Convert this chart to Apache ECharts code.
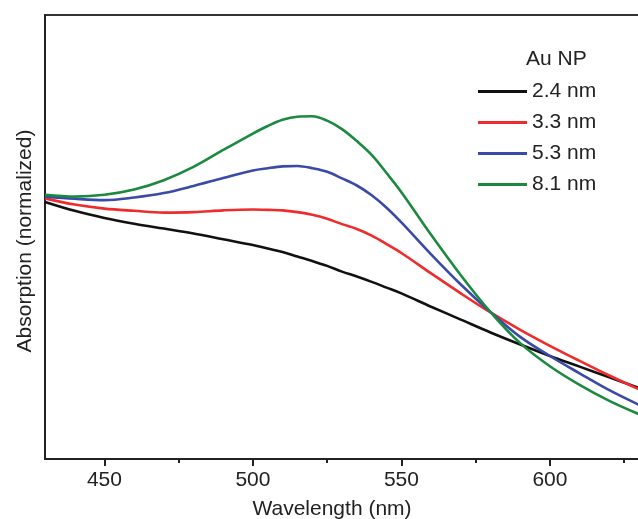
<!DOCTYPE html>
<html>
<head>
<meta charset="utf-8">
<script src="https://cdn.jsdelivr.net/npm/echarts@6/dist/echarts.min.js"></script>
<style>
html,body{margin:0;padding:0;background:#fff;}
#chart{width:638px;height:519px;}
</style>
</head>
<body>
<div id="chart"></div>
<script>
// Wavelength (nm)
var wavelengths = [430,440,450,460,470,480,490,500,505,510,515,520,525,530,535,540,545,550,560,570,580,590,600,610,620,630];
// Normalized absorption (arbitrary units, 0-100 scale)
var au24 = [57.9,55.9,54.3,53.0,51.9,50.8,49.5,48.2,47.4,46.6,45.6,44.6,43.5,42.2,41.1,39.9,38.6,37.3,34.3,31.4,28.5,25.8,23.2,20.8,18.4,16.0];
var au33 = [58.7,57.3,56.4,55.9,55.5,55.6,56.0,56.2,56.1,56.0,55.6,55.0,54.1,52.9,51.8,50.3,48.4,46.4,41.8,37.3,33.0,29.1,25.5,22.1,18.8,15.7];
var au53 = [59.1,58.6,58.3,58.9,59.9,61.5,63.3,65.0,65.5,65.9,66.0,65.5,64.7,63.2,61.6,59.4,56.6,53.3,46.1,39.3,33.1,27.5,23.2,19.3,15.5,12.2];
var au81 = [59.5,59.1,59.5,60.7,62.8,65.8,69.6,73.3,75.0,76.4,77.1,77.2,76.2,74.3,71.6,68.5,64.4,60.1,50.5,41.4,33.1,26.1,20.9,16.7,13.1,10.1];
var seriesNames = ['2.4 nm','3.3 nm','5.3 nm','8.1 nm'];
var majorTicks = [450,500,550,600];
var minorTicks = [475,525,575,625];

var FONT = '"Liberation Sans", Arial, Helvetica, sans-serif';
var colors = ['#111111','#ef2b2b','#3a4aa8','#1c8a3e'];
var allData = [au24, au33, au53, au81];

function pairs(vals){
  return wavelengths.map(function(w,i){ return [w, vals[i]]; });
}

var series = allData.map(function(vals, i){
  return {
    name: seriesNames[i],
    type: 'line',
    xAxisIndex: 0,
    yAxisIndex: 0,
    data: pairs(vals),
    smooth: 0.35,
    symbol: 'none',
    lineStyle: {color: colors[i], width: 2.6},
    itemStyle: {color: colors[i]},
    z: 2 + i
  };
});

var chart = echarts.init(document.getElementById('chart'), null, {renderer: 'canvas'});
chart.setOption({
  animation: false,
  backgroundColor: '#ffffff',
  title: {
    text: 'Au NP',
    left: 526,
    top: 49,
    padding: 0,
    textStyle: {fontFamily: FONT, fontSize: 21, fontWeight: 'normal', color: '#222'}
  },
  legend: {
    orient: 'vertical',
    left: 478,
    top: 81,
    padding: 0,
    itemGap: 10,
    itemWidth: 49,
    itemHeight: 3,
    icon: 'rect',
    data: seriesNames,
    textStyle: {fontFamily: FONT, fontSize: 21, color: '#222'}
  },
  grid: {
    left: 45, right: -1, top: 15, bottom: 60,
    outerBoundsMode: 'none',
    containLabel: false,
    show: true,
    borderColor: '#333',
    borderWidth: 2,
    backgroundColor: 'transparent'
  },
  xAxis: [{
    type: 'value',
    min: 430, max: 630,
    position: 'bottom',
    name: 'Wavelength (nm)',
    nameLocation: 'middle',
    nameGap: 40,
    nameTextStyle: {fontFamily: FONT, fontSize: 21, color: '#222', padding: [0, 20, 0, 0]},
    axisLine: {show: true, lineStyle: {color: '#222', width: 2}},
    axisTick: {show: true, inside: false, length: 7, customValues: majorTicks, lineStyle: {color: '#222', width: 2}},
    axisLabel: {show: true, customValues: majorTicks, margin: 11, fontFamily: FONT, fontSize: 21, color: '#222'},
    splitLine: {show: false}
  }, {
    type: 'value',
    min: 430, max: 630,
    position: 'bottom',
    axisLine: {show: false},
    axisTick: {show: true, inside: false, length: 4, customValues: minorTicks, lineStyle: {color: '#222', width: 2}},
    axisLabel: {show: false},
    splitLine: {show: false}
  }],
  yAxis: {
    type: 'value',
    min: 0, max: 100,
    name: 'Absorption (normalized)',
    nameLocation: 'middle',
    nameGap: 9,
    nameTextStyle: {fontFamily: FONT, fontSize: 21, color: '#222', padding: [0, 8, 0, 0]},
    axisLine: {show: true, lineStyle: {color: '#222', width: 2}},
    axisTick: {show: false},
    axisLabel: {show: false},
    splitLine: {show: false}
  },
  series: series
});
</script>
</body>
</html>
